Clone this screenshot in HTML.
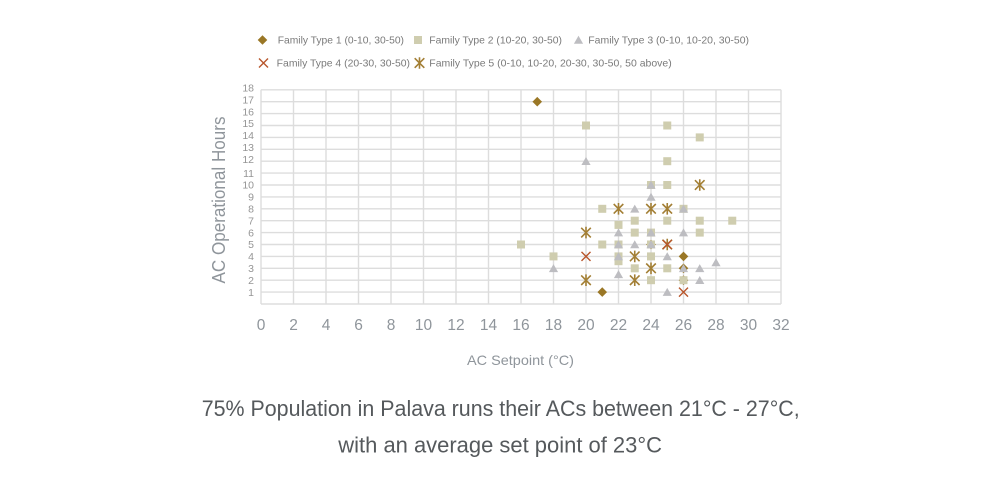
<!DOCTYPE html>
<html><head><meta charset="utf-8"><style>
html,body{margin:0;padding:0;background:#fff;}
svg{display:block;}
text{font-family:"Liberation Sans",sans-serif;}
</style></head><body>
<svg width="1000" height="480" viewBox="0 0 1000 480" xmlns="http://www.w3.org/2000/svg">
<defs>
<g id="dia"><path d="M0,-4.8 L4.8,0 L0,4.8 L-4.8,0 Z" fill="#9a7726"/></g>
<g id="sq"><rect x="-4" y="-4" width="8" height="8" fill="#cfcdaf"/></g>
<g id="tri"><path d="M0,-4.2 L4.6,3.8 L-4.6,3.8 Z" fill="#bdbdc1"/></g>
<g id="xx"><path d="M-4.5,-4.5 L4.5,4.5 M-4.5,4.5 L4.5,-4.5" stroke="#b8562c" stroke-width="1.4" fill="none"/></g>
<g id="st"><path d="M-4.8,-4.8 L4.8,4.8 M-4.8,4.8 L4.8,-4.8 M0,-5.8 L0,5.8" stroke="#a37f35" stroke-width="1.6" fill="none"/></g>
</defs>

<!-- legend -->
<use href="#dia" x="262.5" y="40"/>
<text x="277.7" y="43.6" font-size="10.3" fill="#7a7a7a" textLength="126.3" lengthAdjust="spacingAndGlyphs">Family Type 1 (0-10, 30-50)</text>
<use href="#sq" x="418" y="40"/>
<text x="429.3" y="43.6" font-size="10.3" fill="#7a7a7a" textLength="132.7" lengthAdjust="spacingAndGlyphs">Family Type 2 (10-20, 30-50)</text>
<use href="#tri" x="578.5" y="40"/>
<text x="588.3" y="43.6" font-size="10.3" fill="#7a7a7a" textLength="160.7" lengthAdjust="spacingAndGlyphs">Family Type 3 (0-10, 10-20, 30-50)</text>
<use href="#xx" x="263.5" y="63"/>
<text x="276.7" y="66.6" font-size="10.3" fill="#7a7a7a" textLength="133.3" lengthAdjust="spacingAndGlyphs">Family Type 4 (20-30, 30-50)</text>
<use href="#st" x="419.5" y="63"/>
<text x="429.3" y="66.6" font-size="10.3" fill="#7a7a7a" textLength="242.4" lengthAdjust="spacingAndGlyphs">Family Type 5 (0-10, 10-20, 20-30, 30-50, 50 above)</text>

<!-- grid -->
<g stroke="#dddddd" stroke-width="1.4" fill="none">
<path d="M261,89.8H781M261,101.7H781M261,113.6H781M261,125.5H781M261,137.4H781M261,149.3H781M261,161.2H781M261,173.1H781M261,185H781M261,196.9H781M261,208.8H781M261,220.7H781M261,232.6H781M261,244.5H781M261,256.4H781M261,268.3H781M261,280.2H781M261,292.1H781M261,304H781"/>
<path d="M261,89.8V304M293.5,89.8V304M326,89.8V304M358.5,89.8V304M391,89.8V304M423.5,89.8V304M456,89.8V304M488.5,89.8V304M521,89.8V304M553.5,89.8V304M586,89.8V304M618.5,89.8V304M651,89.8V304M683.5,89.8V304M716,89.8V304M748.5,89.8V304M781,89.8V304"/>
</g>

<!-- y tick labels -->
<g font-size="10.5" fill="#959595" text-anchor="end">
<text x="254" y="91.5">18</text><text x="254" y="103.4">17</text><text x="254" y="115.3">16</text><text x="254" y="127.2">15</text><text x="254" y="139.1">14</text><text x="254" y="151">13</text><text x="254" y="162.9">12</text><text x="254" y="176.8">11</text><text x="254" y="188.7">10</text><text x="254" y="200.6">9</text><text x="254" y="212.5">8</text><text x="254" y="224.4">7</text><text x="254" y="236.3">6</text><text x="254" y="248.2">5</text><text x="254" y="260.1">4</text><text x="254" y="272">3</text><text x="254" y="283.9">2</text><text x="254" y="295.8">1</text>
</g>

<!-- x tick labels -->
<g font-size="15.5" fill="#8f959b" text-anchor="middle">
<text x="261" y="330">0</text><text x="293.5" y="330">2</text><text x="326" y="330">4</text><text x="358.5" y="330">6</text><text x="391" y="330">8</text><text x="423.5" y="330">10</text><text x="456" y="330">12</text><text x="488.5" y="330">14</text><text x="521" y="330">16</text><text x="553.5" y="330">18</text><text x="586" y="330">20</text><text x="618.5" y="330">22</text><text x="651" y="330">24</text><text x="683.5" y="330">26</text><text x="716" y="330">28</text><text x="748.5" y="330">30</text><text x="781" y="330">32</text>
</g>

<!-- axis titles -->
<text x="520.5" y="365" font-size="14" fill="#8f959b" text-anchor="middle" textLength="107" lengthAdjust="spacingAndGlyphs">AC Setpoint (°C)</text>
<text transform="translate(225,200) rotate(-90)" x="0" y="0" font-size="18" fill="#8f959b" text-anchor="middle" textLength="167" lengthAdjust="spacingAndGlyphs">AC Operational Hours</text>

<!-- Type 1 diamonds -->
<use href="#dia" x="537.25" y="101.7"/>
<use href="#dia" x="602.25" y="292.1"/>
<use href="#dia" x="683.5" y="256.4"/>
<use href="#dia" x="683.5" y="268.3"/>
<use href="#dia" x="651" y="244.5"/>
<use href="#dia" x="683.5" y="280.2"/>
<!-- Type 2 squares -->
<use href="#sq" x="586" y="125.5"/>
<use href="#sq" x="667.25" y="125.5"/>
<use href="#sq" x="699.75" y="137.4"/>
<use href="#sq" x="667.25" y="161.2"/>
<use href="#sq" x="651" y="185"/>
<use href="#sq" x="667.25" y="185"/>
<use href="#sq" x="602.25" y="208.8"/>
<use href="#sq" x="683.5" y="208.8"/>
<use href="#sq" x="618.5" y="224.9"/>
<use href="#sq" x="634.75" y="220.7"/>
<use href="#sq" x="667.25" y="220.7"/>
<use href="#sq" x="699.75" y="220.7"/>
<use href="#sq" x="732.25" y="220.7"/>
<use href="#sq" x="634.75" y="232.6"/>
<use href="#sq" x="651" y="232.6"/>
<use href="#sq" x="699.75" y="232.6"/>
<use href="#sq" x="521" y="244.5"/>
<use href="#sq" x="602.25" y="244.5"/>
<use href="#sq" x="618.5" y="244.5"/>
<use href="#sq" x="651" y="244.5"/>
<use href="#sq" x="553.5" y="256.4"/>
<use href="#sq" x="618.5" y="256.4"/>
<use href="#sq" x="618.5" y="261.2"/>
<use href="#sq" x="651" y="256.4"/>
<use href="#sq" x="634.75" y="268.3"/>
<use href="#sq" x="667.25" y="268.3"/>
<use href="#sq" x="651" y="280.2"/>
<use href="#sq" x="683.5" y="280.2"/>
<!-- Type 3 triangles -->
<use href="#tri" x="586" y="161.2"/>
<use href="#tri" x="651" y="185"/>
<use href="#tri" x="651" y="196.9"/>
<use href="#tri" x="634.75" y="208.8"/>
<use href="#tri" x="683.5" y="208.8"/>
<use href="#tri" x="618.5" y="232.6"/>
<use href="#tri" x="651" y="232.6"/>
<use href="#tri" x="683.5" y="232.6"/>
<use href="#tri" x="618.5" y="244.5"/>
<use href="#tri" x="634.75" y="244.5"/>
<use href="#tri" x="651" y="244.5"/>
<use href="#tri" x="618.5" y="256.4"/>
<use href="#tri" x="667.25" y="256.4"/>
<use href="#tri" x="553.5" y="268.3"/>
<use href="#tri" x="683.5" y="268.3"/>
<use href="#tri" x="699.75" y="268.3"/>
<use href="#tri" x="716" y="262.4"/>
<use href="#tri" x="618.5" y="274.3"/>
<use href="#tri" x="699.75" y="280.2"/>
<use href="#tri" x="667.25" y="292.1"/>
<!-- Type 5 stars -->
<use href="#st" x="618.5" y="208.8"/>
<use href="#st" x="651" y="208.8"/>
<use href="#st" x="667.25" y="208.8"/>
<use href="#st" x="699.75" y="185"/>
<use href="#st" x="586" y="232.6"/>
<use href="#st" x="667.25" y="244.5"/>
<use href="#st" x="634.75" y="256.4"/>
<use href="#st" x="651" y="268.3"/>
<use href="#st" x="586" y="280.2"/>
<use href="#st" x="634.75" y="280.2"/>
<!-- Type 4 X -->
<use href="#xx" x="586" y="256.4"/>
<use href="#xx" x="667.25" y="244.5"/>
<use href="#xx" x="683.5" y="292.1"/>

<!-- caption -->
<text x="201.7" y="416" font-size="22.5" fill="#55595c" textLength="598" lengthAdjust="spacingAndGlyphs">75% Population in Palava runs their ACs between 21°C - 27°C,</text>
<text x="338.3" y="452.5" font-size="22.5" fill="#55595c" textLength="323.7" lengthAdjust="spacingAndGlyphs">with an average set point of 23°C</text>
</svg>
</body></html>
